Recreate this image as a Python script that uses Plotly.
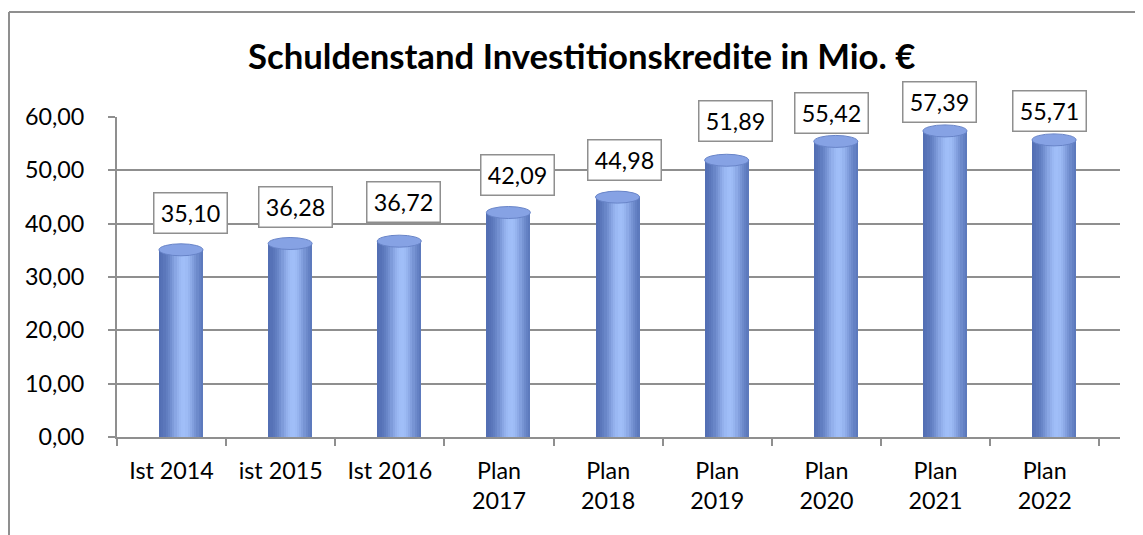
import math
import plotly.graph_objects as go

# ---- data ----
categories = ["Ist 2014", "ist 2015", "Ist 2016", "Plan<br>2017", "Plan<br>2018",
              "Plan<br>2019", "Plan<br>2020", "Plan<br>2021", "Plan<br>2022"]
values = [35.10, 36.28, 36.72, 42.09, 44.98, 51.89, 55.42, 57.39, 55.71]
y_ticks = [0, 10, 20, 30, 40, 50, 60]
title_text = "Schuldenstand Investitionskredite in Mio. €"

# ---- layout geometry (page body has an 8px margin) ----
OFF = 8
W, H = 1143 - OFF, 535 - OFF
L, R, T, B = 117 - OFF, 23, 117 - OFF, 98
plot_w = W - L - R
plot_h = H - T - B
x_range = [-0.5, 8.69]
y_range = [0, 60]
px_x = plot_w / (x_range[1] - x_range[0])
px_y = plot_h / (y_range[1] - y_range[0])

bar_off = 9.4 / px_x        # 3D depth shift of the columns
bar_w = 44 / px_x
N = 20
sw = bar_w / N

dark = (78, 106, 176)
light = (160, 190, 248)


def strip_color(t):
    b = math.exp(-((t - 0.56) / 0.32) ** 2)
    c = [int(round(d + (l - d) * b)) for d, l in zip(dark, light)]
    return "rgb(%d,%d,%d)" % tuple(c)


font_family = "Lato"
fs = 23.3
grid_col = "#8f8f8f"

fig = go.Figure()
xs = [i + bar_off for i in range(len(values))]
for k in range(N):
    t = (k + 0.5) / N
    w = sw * 1.6 if k < N - 1 else sw
    fig.add_trace(go.Bar(
        x=xs, y=values, width=w, offset=-bar_w / 2 + k * sw,
        marker=dict(color=strip_color(t), line=dict(width=0)),
        hoverinfo="skip", showlegend=False))

# cylinder caps
cap = 6 / px_y
for x, v in zip(xs, values):
    fig.add_shape(type="circle", xref="x", yref="y",
                  x0=x - bar_w / 2, x1=x + bar_w / 2, y0=v - cap, y1=v + cap,
                  fillcolor="rgb(134,162,228)", line=dict(color="rgb(104,132,200)", width=1))

# value labels
label_dx = [10, 5, 4, 9, 7, 9, -4, -5, -5]
label_dy = [36.6, 36.6, 39.2, 37.2, 36.8, 39.2, 28.4, 28.5, 28.5]
for i, (x, v) in enumerate(zip(xs, values)):
    fig.add_annotation(x=x, y=v, xref="x", yref="y",
                       text=f"{v:.2f}".replace(".", ","), showarrow=False,
                       xshift=label_dx[i], yshift=label_dy[i],
                       xanchor="center", yanchor="middle",
                       font=dict(family=font_family, size=fs, color="black"),
                       bgcolor="white", bordercolor=grid_col, borderwidth=1.5,
                       borderpad=6, width=60, height=27)

# title
fig.add_annotation(xref="paper", yref="paper",
                   x=(581.5 - OFF - L) / plot_w, y=(H - B - (56 - OFF)) / plot_h,
                   text="<b>" + title_text + "</b>", showarrow=False,
                   xanchor="center", yanchor="middle",
                   font=dict(family=font_family, size=34.7, color="black"))

# outer frame (partially visible)
fx = (9 - OFF - L) / plot_w
fy = (H - B - (12 - OFF)) / plot_h
fig.add_shape(type="line", xref="paper", yref="paper", x0=fx, x1=fx,
              y0=(H - B - H - 5) / plot_h, y1=fy, line=dict(color=grid_col, width=2))
fig.add_shape(type="line", xref="paper", yref="paper", x0=fx, x1=(W + 5 - L) / plot_w,
              y0=fy, y1=fy, line=dict(color=grid_col, width=2))

fig.update_layout(
    width=W, height=H, margin=dict(l=L, r=R, t=T, b=B, autoexpand=False),
    paper_bgcolor="white", plot_bgcolor="white",
    barmode="overlay", bargap=0, separators=",.",
    font=dict(family=font_family, size=fs, color="black"),
    showlegend=False,
)
fig.update_xaxes(range=x_range, tickvals=list(range(len(categories))), ticktext=categories,
                 ticks="", showline=True, linecolor=grid_col, linewidth=2,
                 showgrid=False, zeroline=False, ticklabelstandoff=12,
                 minor=dict(tickvals=[i - 0.5 for i in range(len(categories) + 1)],
                            ticks="outside", ticklen=7, tickwidth=2, tickcolor=grid_col,
                            showgrid=False),
                 tickfont=dict(family=font_family, size=fs, color="black"))
fig.update_yaxes(range=y_range, tickvals=y_ticks, tickformat=".2f",
                 ticks="outside", ticklen=7, tickwidth=2, tickcolor=grid_col,
                 showline=True, linecolor=grid_col, linewidth=2,
                 showgrid=True, gridcolor=grid_col, gridwidth=2, zeroline=False,
                 ticklabelstandoff=19,
                 tickfont=dict(family=font_family, size=fs, color="black"))

fig.write_html("out.html")
